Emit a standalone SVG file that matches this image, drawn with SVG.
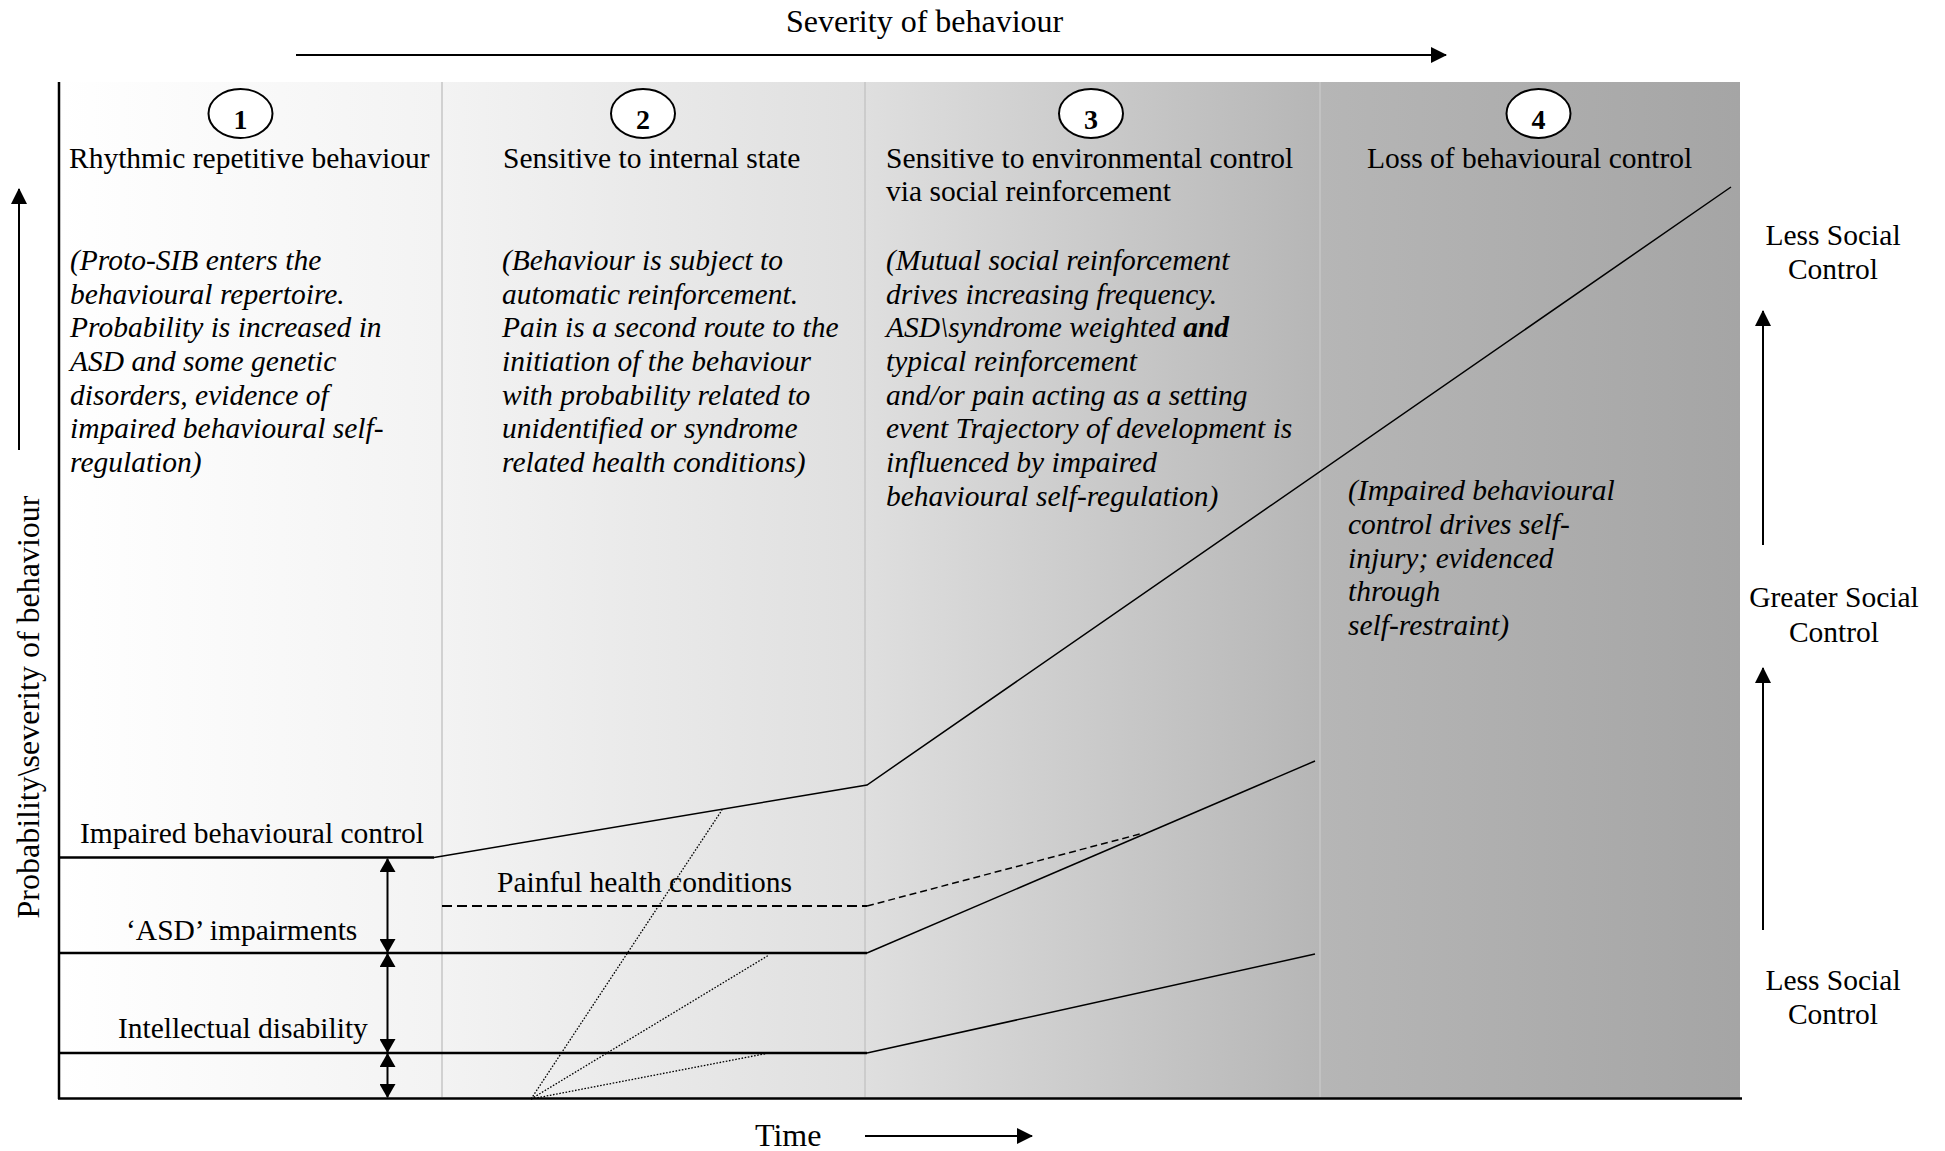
<svg xmlns="http://www.w3.org/2000/svg" width="1945" height="1151" viewBox="0 0 1945 1151">
<style>
text{font-family:"Liberation Serif","Times New Roman",serif;fill:#000}
.t{font-size:29.5px}
.big{font-size:32px}
.i{font-size:29.5px;font-style:italic}
.num{font-size:28px;font-weight:bold;text-anchor:middle}
.c{text-anchor:middle}
.ax{stroke:#000;stroke-width:2.5;fill:none}
.thick{stroke:#000;stroke-width:2.5;fill:none}
.thin{stroke:#000;stroke-width:1.5;fill:none}
.dash{stroke:#000;stroke-width:2;fill:none;stroke-dasharray:10 5}
.dashthin{stroke:#000;stroke-width:1.5;fill:none;stroke-dasharray:7 4}
.dot{stroke:#000;stroke-width:1.3;fill:none;stroke-dasharray:1.6 1.6}
.div{stroke:#c6c6c6;stroke-width:1.5}
.arr{stroke:#000;stroke-width:2;fill:none}
.circ{fill:#fff;stroke:#000;stroke-width:2}
</style>
<defs>
<linearGradient id="bg" x1="59" y1="0" x2="1740" y2="0" gradientUnits="userSpaceOnUse">
<stop offset="0" stop-color="#ffffff"/>
<stop offset="0.227" stop-color="#f3f3f3"/>
<stop offset="0.48" stop-color="#dfdfdf"/>
<stop offset="0.75" stop-color="#b6b6b6"/>
<stop offset="1" stop-color="#a5a5a5"/>
</linearGradient>
<marker id="ah" viewBox="0 0 16 16" refX="15" refY="8" markerWidth="16" markerHeight="16" markerUnits="userSpaceOnUse" orient="auto-start-reverse">
<path d="M0,0 L16,8 L0,16 Z" fill="#000"/>
</marker>
<marker id="dh" viewBox="0 0 14 16" refX="13" refY="8" markerWidth="14" markerHeight="16" markerUnits="userSpaceOnUse" orient="auto-start-reverse">
<path d="M0,0 L14,8 L0,16 Z" fill="#000"/>
</marker>
</defs>

<g id="background">
<rect x="59" y="82" width="1681" height="1016" fill="url(#bg)"/>
<line class="div" x1="442" y1="82" x2="442" y2="1097"/>
<line class="div" x1="865" y1="82" x2="865" y2="1097"/>
<line class="div" x1="1320" y1="82" x2="1320" y2="1097"/>
</g>

<g id="axes">
<line class="ax" x1="59" y1="82" x2="59" y2="1099"/>
<line class="ax" x1="58" y1="1098.5" x2="1742" y2="1098.5"/>
<text class="big" x="786" y="32">Severity of behaviour</text>
<line class="arr" x1="296" y1="55" x2="1446" y2="55" marker-end="url(#ah)"/>
<text class="big" x="755" y="1146">Time</text>
<line class="arr" x1="865" y1="1136" x2="1032" y2="1136" marker-end="url(#ah)"/>
<line class="arr" x1="19" y1="450" x2="19" y2="189" marker-end="url(#ah)"/>
<text class="big c" transform="translate(39,707) rotate(-90)">Probability\severity of behaviour</text>
</g>

<g id="stage1">
<ellipse class="circ" cx="240.5" cy="113.5" rx="32" ry="24.5"/>
<text class="num" x="240.5" y="129">1</text>
<text class="t" x="69" y="168">Rhythmic repetitive behaviour</text>
<text class="i" x="70" y="270">(Proto-SIB enters the</text>
<text class="i" x="70" y="304">behavioural repertoire.</text>
<text class="i" x="70" y="337">Probability is increased in</text>
<text class="i" x="70" y="371">ASD and some genetic</text>
<text class="i" x="70" y="405">disorders, evidence of</text>
<text class="i" x="70" y="438">impaired behavioural self-</text>
<text class="i" x="70" y="472">regulation)</text>
</g>

<g id="stage2">
<ellipse class="circ" cx="643" cy="113.5" rx="32" ry="24.5"/>
<text class="num" x="643" y="129">2</text>
<text class="t" x="503" y="168">Sensitive to internal state</text>
<text class="i" x="502" y="270">(Behaviour is subject to</text>
<text class="i" x="502" y="304">automatic reinforcement.</text>
<text class="i" x="502" y="337">Pain is a second route to the</text>
<text class="i" x="502" y="371">initiation of the behaviour</text>
<text class="i" x="502" y="405">with probability related to</text>
<text class="i" x="502" y="438">unidentified or syndrome</text>
<text class="i" x="502" y="472">related health conditions)</text>
</g>

<g id="stage3">
<ellipse class="circ" cx="1091" cy="113.5" rx="32" ry="24.5"/>
<text class="num" x="1091" y="129">3</text>
<text class="t" x="886" y="168">Sensitive to environmental control</text>
<text class="t" x="886" y="201">via social reinforcement</text>
<text class="i" x="886" y="270">(Mutual social reinforcement</text>
<text class="i" x="886" y="304">drives increasing frequency.</text>
<text class="i" x="886" y="337">ASD\syndrome weighted <tspan font-weight="bold">and</tspan></text>
<text class="i" x="886" y="371">typical reinforcement</text>
<text class="i" x="886" y="405">and/or pain acting as a setting</text>
<text class="i" x="886" y="438">event Trajectory of development is</text>
<text class="i" x="886" y="472">influenced by impaired</text>
<text class="i" x="886" y="506">behavioural self-regulation)</text>
</g>

<g id="stage4">
<ellipse class="circ" cx="1538.5" cy="113.5" rx="32" ry="24.5"/>
<text class="num" x="1538.5" y="129">4</text>
<text class="t" x="1367" y="168">Loss of behavioural control</text>
<text class="i" x="1348" y="500">(Impaired behavioural</text>
<text class="i" x="1348" y="534">control drives self-</text>
<text class="i" x="1348" y="568">injury; evidenced</text>
<text class="i" x="1348" y="601">through</text>
<text class="i" x="1348" y="635">self-restraint)</text>
</g>

<g id="social-scale">
<text class="t c" x="1833" y="245">Less Social</text>
<text class="t c" x="1833" y="279">Control</text>
<line class="arr" x1="1763" y1="545" x2="1763" y2="311" marker-end="url(#ah)"/>
<text class="t c" x="1834" y="607">Greater Social</text>
<text class="t c" x="1834" y="642">Control</text>
<line class="arr" x1="1763" y1="930" x2="1763" y2="668" marker-end="url(#ah)"/>
<text class="t c" x="1833" y="990">Less Social</text>
<text class="t c" x="1833" y="1024">Control</text>
</g>

<g id="connectors">
<line class="thick" x1="58" y1="857.5" x2="434" y2="857.5"/>
<polyline class="thin" points="434,857.5 867,785 1731,187"/>
<line class="dash" x1="442" y1="906" x2="867" y2="906"/>
<line class="dashthin" x1="867" y1="906" x2="1140" y2="834"/>
<line class="thick" x1="58" y1="953" x2="867" y2="953"/>
<line class="thin" x1="867" y1="953" x2="1315" y2="761"/>
<line class="thick" x1="58" y1="1053" x2="867" y2="1053"/>
<line class="thin" x1="867" y1="1053" x2="1315" y2="954"/>
<line class="dot" x1="531" y1="1099" x2="722" y2="810"/>
<line class="dot" x1="531" y1="1099" x2="769" y2="955"/>
<line class="dot" x1="531" y1="1099" x2="769" y2="1053"/>
<line class="arr" x1="387.5" y1="859" x2="387.5" y2="952" marker-start="url(#dh)" marker-end="url(#dh)"/>
<line class="arr" x1="387.5" y1="954" x2="387.5" y2="1052" marker-start="url(#dh)" marker-end="url(#dh)"/>
<line class="arr" x1="387.5" y1="1054" x2="387.5" y2="1097" marker-start="url(#dh)" marker-end="url(#dh)"/>
</g>

<g id="line-labels">
<text class="t" x="80" y="843">Impaired behavioural control</text>
<text class="t" x="497" y="892">Painful health conditions</text>
<text class="t" x="126" y="940">‘ASD’ impairments</text>
<text class="t" x="118" y="1038">Intellectual disability</text>
</g>
</svg>
